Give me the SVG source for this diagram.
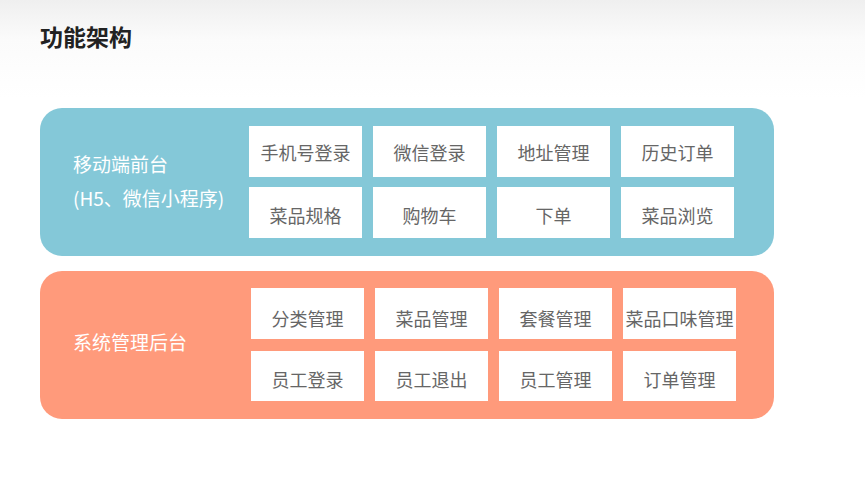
<svg xmlns="http://www.w3.org/2000/svg" width="865" height="488" viewBox="0 0 865 488">
<defs>
<linearGradient id="bg" x1="0" y1="0" x2="0" y2="1">
<stop offset="0" stop-color="#efefef"/>
<stop offset="0.08" stop-color="#fbfbfb"/>
<stop offset="0.2" stop-color="#ffffff"/>
<stop offset="1" stop-color="#ffffff"/>
</linearGradient>
<style>
text{font-family:"Noto Sans CJK SC","Liberation Sans",sans-serif;}
.title{font-size:23px;font-weight:bold;fill:#222;}
.lbl{font-size:19px;fill:#ffffff;}
.box rect{fill:#ffffff;}
.box text{font-size:18px;fill:#666666;text-anchor:middle;dominant-baseline:central;}
</style>
</defs>
<rect x="0" y="0" width="865" height="488" fill="url(#bg)"/>
<text class="title" x="40" y="46">功能架构</text>

<g id="front">
<rect x="40" y="108" width="734" height="148" rx="22" fill="#84c8d8"/>
<text class="lbl" x="73" y="172">移动端前台</text>
<text class="lbl" x="73" y="206">(H5、微信小程序)</text>
</g>
<g id="f1" class="box"><rect x="249" y="126" width="113" height="51"/><text x="305.5" y="152">手机号登录</text></g>
<g id="f2" class="box"><rect x="373" y="126" width="113" height="51"/><text x="429.5" y="152">微信登录</text></g>
<g id="f3" class="box"><rect x="497" y="126" width="113" height="51"/><text x="553.5" y="152">地址管理</text></g>
<g id="f4" class="box"><rect x="621" y="126" width="113" height="51"/><text x="677.5" y="152">历史订单</text></g>
<g id="f5" class="box"><rect x="249" y="187" width="113" height="51"/><text x="305.5" y="215">菜品规格</text></g>
<g id="f6" class="box"><rect x="373" y="187" width="113" height="51"/><text x="429.5" y="215">购物车</text></g>
<g id="f7" class="box"><rect x="497" y="187" width="113" height="51"/><text x="553.5" y="215">下单</text></g>
<g id="f8" class="box"><rect x="621" y="187" width="113" height="51"/><text x="677.5" y="215">菜品浏览</text></g>

<g id="back">
<rect x="40" y="271" width="734" height="148" rx="22" fill="#ff9a7b"/>
<text class="lbl" x="73" y="350">系统管理后台</text>
</g>
<g id="b1" class="box"><rect x="251" y="288" width="113" height="51"/><text x="307.5" y="318">分类管理</text></g>
<g id="b2" class="box"><rect x="375" y="288" width="113" height="51"/><text x="431.5" y="318">菜品管理</text></g>
<g id="b3" class="box"><rect x="499" y="288" width="113" height="51"/><text x="555.5" y="318">套餐管理</text></g>
<g id="b4" class="box"><rect x="623" y="288" width="113" height="51"/><text x="679.5" y="318">菜品口味管理</text></g>
<g id="b5" class="box"><rect x="251" y="351" width="113" height="50"/><text x="307.5" y="379">员工登录</text></g>
<g id="b6" class="box"><rect x="375" y="351" width="113" height="50"/><text x="431.5" y="379">员工退出</text></g>
<g id="b7" class="box"><rect x="499" y="351" width="113" height="50"/><text x="555.5" y="379">员工管理</text></g>
<g id="b8" class="box"><rect x="623" y="351" width="113" height="50"/><text x="679.5" y="379">订单管理</text></g>
<g id="connectors"/>
</svg>
